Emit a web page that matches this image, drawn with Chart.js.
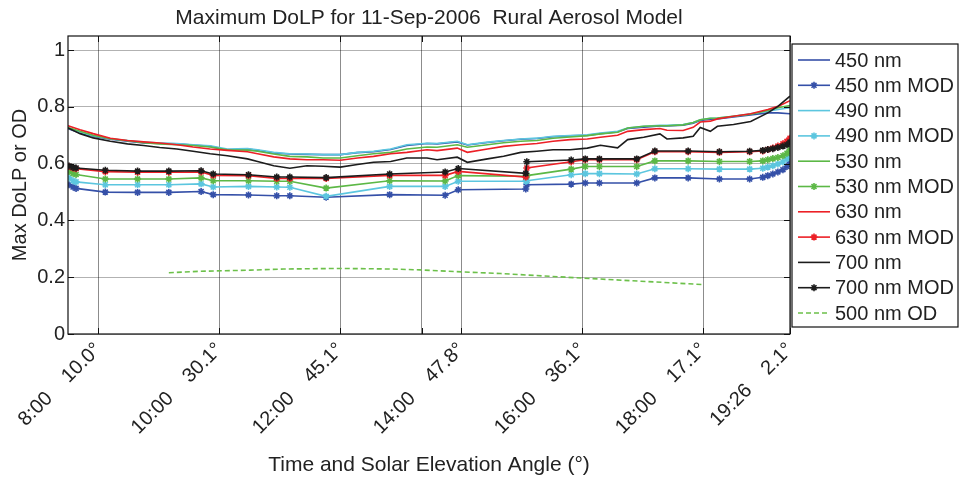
<!DOCTYPE html>
<html>
<head>
<meta charset="utf-8">
<script src="https://cdn.jsdelivr.net/npm/chart.js@4/dist/chart.umd.min.js"></script>
<style>
  html, body { margin: 0; padding: 0; background: #fff; }
  #wrap { width: 960px; height: 480px; }
</style>
</head>
<body>
<div id="wrap"><canvas id="chart" width="960" height="480"></canvas></div>
<script>
// time ticks along the bottom, with solar elevation
const xTickTimes = ['8:00', '10:00', '12:00', '13:21', '14:00', '16:00', '18:00', '19:26'];
const xTickElev = ['10.0', '30.1', '45.1', '', '47.8', '36.1', '17.1', '2.1'];
const yTicks = [0, 0.2, 0.4, 0.6, 0.8, 1];

// measured max DoLP (continuous lines)
const lineTimes = ['7:30','7:42','7:55','8:12','8:29','8:45','9:01','9:18','9:34','9:51','10:08','10:28','10:38','10:54','11:10','11:27','11:43','12:00','12:17','12:33','12:50','13:06','13:26','13:36','13:56','14:06','14:26','14:42','14:59','15:15','15:31','15:48','16:05','16:18','16:35','16:45','17:01','17:17','17:24','17:40','17:50','17:57','18:07','18:14','18:30','18:47','19:04','19:14','19:26'];
const dolp450 = [0.724,0.708,0.697,0.686,0.679,0.673,0.671,0.670,0.666,0.661,0.648,0.652,0.647,0.638,0.634,0.633,0.632,0.632,0.639,0.642,0.650,0.664,0.671,0.670,0.677,0.666,0.675,0.681,0.686,0.689,0.695,0.698,0.700,0.706,0.712,0.724,0.729,0.733,0.733,0.736,0.743,0.752,0.757,0.758,0.765,0.772,0.779,0.779,0.776];
const dolp490 = [0.726,0.710,0.699,0.688,0.682,0.676,0.673,0.671,0.667,0.663,0.652,0.653,0.649,0.640,0.635,0.634,0.632,0.632,0.640,0.644,0.652,0.667,0.672,0.671,0.679,0.667,0.676,0.682,0.687,0.690,0.697,0.699,0.702,0.708,0.714,0.726,0.732,0.735,0.735,0.738,0.745,0.755,0.760,0.761,0.767,0.776,0.785,0.791,0.797];
const dolp530 = [0.728,0.714,0.700,0.688,0.681,0.674,0.670,0.667,0.664,0.659,0.649,0.648,0.644,0.634,0.626,0.624,0.620,0.620,0.628,0.635,0.640,0.652,0.659,0.658,0.667,0.658,0.667,0.674,0.679,0.682,0.690,0.694,0.699,0.705,0.711,0.726,0.732,0.734,0.734,0.737,0.745,0.755,0.760,0.761,0.767,0.774,0.788,0.797,0.805];
const dolp630 = [0.734,0.720,0.706,0.690,0.682,0.677,0.673,0.667,0.659,0.652,0.647,0.642,0.635,0.624,0.617,0.614,0.614,0.612,0.620,0.626,0.635,0.640,0.649,0.646,0.655,0.640,0.652,0.661,0.667,0.671,0.679,0.685,0.687,0.693,0.700,0.714,0.720,0.724,0.718,0.717,0.728,0.747,0.750,0.758,0.767,0.776,0.791,0.802,0.822];
const dolp700 = [0.726,0.706,0.691,0.679,0.670,0.664,0.657,0.652,0.644,0.635,0.628,0.617,0.608,0.593,0.584,0.593,0.591,0.588,0.597,0.605,0.608,0.620,0.620,0.614,0.623,0.605,0.617,0.626,0.640,0.644,0.649,0.649,0.655,0.665,0.656,0.685,0.693,0.705,0.687,0.691,0.697,0.728,0.714,0.732,0.738,0.749,0.779,0.802,0.838];

// modelled max DoLP (lines with markers)
const modTimes = ['7:31','7:35','7:38','8:07','8:39','9:10','9:42','9:54','10:29','10:57','11:10','11:46','12:49','13:44','13:57','15:04','15:05','15:49','16:03','16:17','16:54','17:12','17:45','18:16','18:46','18:59','19:04','19:09','19:14','19:19','19:23','19:26'];
const mod450 = [0.526,0.518,0.513,0.500,0.499,0.499,0.502,0.491,0.490,0.487,0.487,0.482,0.491,0.489,0.508,0.511,0.526,0.528,0.532,0.532,0.532,0.550,0.550,0.546,0.546,0.552,0.558,0.564,0.571,0.579,0.590,0.605];
const mod490 = [0.550,0.540,0.536,0.526,0.526,0.526,0.529,0.518,0.520,0.518,0.517,0.485,0.520,0.520,0.538,0.538,0.540,0.561,0.565,0.565,0.564,0.582,0.582,0.581,0.581,0.584,0.588,0.593,0.599,0.606,0.618,0.634];
const mod530 = [0.573,0.566,0.562,0.546,0.546,0.546,0.550,0.540,0.540,0.538,0.538,0.514,0.540,0.539,0.558,0.556,0.558,0.581,0.590,0.590,0.590,0.610,0.610,0.608,0.608,0.610,0.614,0.618,0.622,0.628,0.637,0.649];
const mod630 = [0.590,0.585,0.582,0.572,0.570,0.570,0.571,0.559,0.558,0.548,0.548,0.548,0.559,0.559,0.573,0.553,0.585,0.607,0.614,0.614,0.614,0.642,0.642,0.640,0.642,0.645,0.650,0.655,0.662,0.670,0.679,0.690];
const mod700 = [0.592,0.587,0.585,0.577,0.574,0.574,0.575,0.564,0.561,0.553,0.553,0.551,0.564,0.571,0.583,0.566,0.607,0.613,0.617,0.617,0.617,0.645,0.645,0.642,0.644,0.647,0.650,0.653,0.657,0.662,0.667,0.676];

// optical depth at 500 nm
const odTimes = ['9:10','9:41','10:31','11:04','12:00','12:50','13:19','13:47','14:39','16:00','16:58','18:01'];
const od500 = [0.216,0.221,0.225,0.229,0.231,0.229,0.226,0.221,0.213,0.197,0.186,0.174];

const FONT = '"Liberation Sans", Arial, Helvetica, sans-serif';
const TITLE = 'Maximum DoLP for 11-Sep-2006  Rural Aerosol Model';

function hours(t) {
  const p = t.split(':').map(Number);
  return p[0] + p[1] / 60;
}
function pts(times, vals) {
  return times.map((t, i) => ({ x: hours(t), y: vals[i] }));
}

const seriesDefs = [
  { label: '450 nm', times: lineTimes, vals: dolp450, color: '#3550a8', mod: false },
  { label: '450 nm MOD', times: modTimes, vals: mod450, color: '#3550a8', mod: true },
  { label: '490 nm', times: lineTimes, vals: dolp490, color: '#5cc6df', mod: false },
  { label: '490 nm MOD', times: modTimes, vals: mod490, color: '#5cc6df', mod: true },
  { label: '530 nm', times: lineTimes, vals: dolp530, color: '#5cb846', mod: false },
  { label: '530 nm MOD', times: modTimes, vals: mod530, color: '#5cb846', mod: true },
  { label: '630 nm', times: lineTimes, vals: dolp630, color: '#ec2026', mod: false },
  { label: '630 nm MOD', times: modTimes, vals: mod630, color: '#ec2026', mod: true },
  { label: '700 nm', times: lineTimes, vals: dolp700, color: '#1c1c1c', mod: false },
  { label: '700 nm MOD', times: modTimes, vals: mod700, color: '#1c1c1c', mod: true },
  { label: '500 nm OD', times: odTimes, vals: od500, color: '#6cc04a', mod: false, dash: [5, 3] }
];

const datasets = seriesDefs.map((s, i) => ({
  label: s.label,
  data: pts(s.times, s.vals),
  borderColor: s.color,
  backgroundColor: s.color,
  borderWidth: 1.6,
  borderDash: s.dash || [],
  pointStyle: 'star',
  pointRadius: s.mod ? 3.5 : 0,
  pointBorderWidth: 1.6,
  tension: 0,
  order: seriesDefs.length - i
}));

// title centred over the plot box
const plotTitle = {
  id: 'plotTitle',
  afterDraw(chart) {
    const { ctx, chartArea: a } = chart;
    ctx.save();
    ctx.font = '21px ' + FONT;
    ctx.fillStyle = '#222';
    ctx.textAlign = 'center';
    ctx.textBaseline = 'middle';
    ctx.fillText(TITLE, (a.left + a.right) / 2, 18);
    ctx.restore();
  }
};

// box around the axes + inward tick marks, like the original figure
const frame = {
  id: 'frame',
  afterDraw(chart) {
    const { ctx, chartArea: a, scales } = chart;
    ctx.save();
    ctx.strokeStyle = '#111';
    ctx.lineWidth = 1.2;
    ctx.strokeRect(a.left, a.top, a.right - a.left, a.bottom - a.top);
    ctx.lineWidth = 1;
    scales.x.ticks.forEach(t => {
      const x = Math.round(scales.x.getPixelForValue(t.value)) + 0.5;
      ctx.beginPath();
      ctx.moveTo(x, a.bottom); ctx.lineTo(x, a.bottom - 6);
      ctx.moveTo(x, a.top); ctx.lineTo(x, a.top + 6);
      ctx.stroke();
    });
    scales.y.ticks.forEach(t => {
      const y = Math.round(scales.y.getPixelForValue(t.value)) + 0.5;
      ctx.beginPath();
      ctx.moveTo(a.left, y); ctx.lineTo(a.left + 6, y);
      ctx.moveTo(a.right, y); ctx.lineTo(a.right - 6, y);
      ctx.stroke();
    });
    ctx.restore();
  }
};

// legend box to the right of the plot
const sideLegend = {
  id: 'sideLegend',
  afterDraw(chart) {
    const { ctx } = chart;
    const left = 792, top = 44, right = 958, bottom = 327;
    ctx.save();
    ctx.fillStyle = '#fff';
    ctx.fillRect(left, top, right - left, bottom - top);
    ctx.strokeStyle = '#111';
    ctx.lineWidth = 1.2;
    ctx.strokeRect(left, top, right - left, bottom - top);
    ctx.font = '20px ' + FONT;
    ctx.textBaseline = 'middle';
    ctx.textAlign = 'left';
    seriesDefs.forEach((s, i) => {
      const y = 60 + i * 25.3;
      ctx.strokeStyle = s.color;
      ctx.lineWidth = 1.6;
      ctx.setLineDash(s.dash || []);
      ctx.beginPath();
      ctx.moveTo(798, y); ctx.lineTo(830, y);
      ctx.stroke();
      ctx.setLineDash([]);
      if (s.mod) {
        Chart.helpers.drawPoint(ctx, { pointStyle: 'star', radius: 3.5, borderWidth: 1.6 }, 814, y);
      }
      ctx.fillStyle = '#222';
      ctx.fillText(s.label, 835, y + 1);
    });
    ctx.restore();
  }
};

new Chart(document.getElementById('chart'), {
  type: 'line',
  data: { datasets },
  plugins: [plotTitle, frame, sideLegend],
  options: {
    responsive: false,
    animation: false,
    layout: { padding: { left: 0, right: 170, top: 36, bottom: 0 } },
    plugins: {
      legend: { display: false },
      tooltip: { enabled: false },
      title: { display: false }
    },
    scales: {
      x: {
        type: 'linear',
        min: hours('7:30'),
        max: hours('19:26'),
        afterBuildTicks: scale => {
          scale.ticks = xTickTimes.map(t => ({ value: hours(t) }));
        },
        afterFit: scale => { scale.height = 146; },
        ticks: {
          autoSkip: false,
          minRotation: 45,
          maxRotation: 45,
          padding: 4,
          color: '#222',
          font: { family: FONT, size: 20 },
          callback: (v, i) => {
            const e = xTickElev[i];
            return e ? xTickTimes[i] + '    ' + e + '\u00B0' : '';
          }
        },
        grid: { color: 'rgba(0,0,0,0.45)', lineWidth: 1, drawTicks: false },
        border: { display: false },
        title: {
          display: true,
          text: 'Time and Solar Elevation Angle (\u00B0)',
          color: '#222',
          font: { family: FONT, size: 21, lineHeight: 1.2 },
          padding: { top: 0, bottom: 2 }
        }
      },
      y: {
        min: 0,
        max: 1.05,
        afterBuildTicks: scale => {
          scale.ticks = yTicks.map(v => ({ value: v }));
        },
        afterFit: scale => { scale.width = 68; },
        ticks: {
          padding: 3,
          color: '#222',
          font: { family: FONT, size: 20 },
          callback: v => String(+v.toFixed(1))
        },
        grid: { color: 'rgba(0,0,0,0.3)', lineWidth: 1, drawTicks: false },
        border: { display: false },
        title: {
          display: true,
          text: 'Max DoLP or OD',
          color: '#222',
          font: { family: FONT, size: 20, lineHeight: 1.2 },
          padding: { top: 8, bottom: 0 }
        }
      }
    }
  }
});
</script>
</body>
</html>
